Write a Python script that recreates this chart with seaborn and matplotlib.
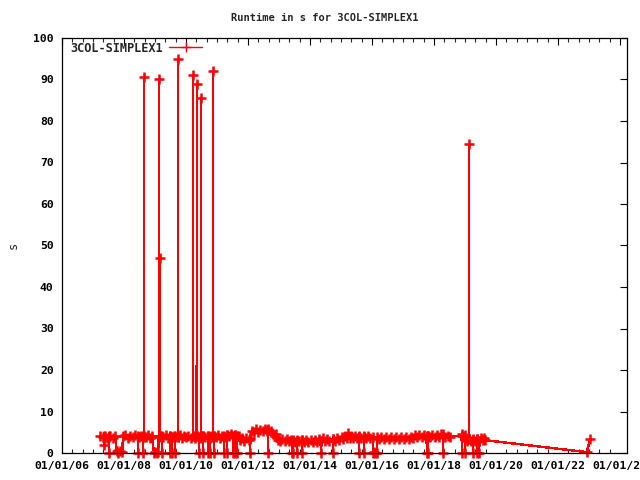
import pandas as pd
import matplotlib
matplotlib.use("Agg")
import matplotlib.pyplot as plt
import seaborn as sns
from matplotlib.ticker import MultipleLocator

# runtime samples (decimal year -> seconds), one pair of lists per year
t_2007 = [2007.23, 2007.32, 2007.345, 2007.35, 2007.355, 2007.39, 2007.45, 2007.515, 2007.52,
          2007.525, 2007.56, 2007.63, 2007.71, 2007.77, 2007.82, 2007.87, 2007.94, 2007.97]
s_2007 = [4.0, 3.9, 3.9, 2.0, 4.0, 4.2, 3.7, 3.9, 0.1,
          4.0, 4.2, 3.7, 4.1, 0.4, 0.1, 0.5, 0.2, 4.0]

t_2008 = [2008.04, 2008.12, 2008.20, 2008.28, 2008.37, 2008.445, 2008.45, 2008.455, 2008.50,
          2008.55, 2008.605, 2008.61, 2008.615, 2008.645, 2008.65, 2008.655, 2008.70, 2008.76,
          2008.83, 2008.90, 2008.97]
s_2008 = [4.3, 3.7, 4.2, 3.8, 4.3, 3.9, 0.0, 4.0, 3.8,
          4.2, 3.8, 0.0, 4.1, 3.8, 90.5, 4.2, 3.8, 4.3,
          3.7, 4.2, 0.0]

t_2009 = [2009.01, 2009.05, 2009.10, 2009.125, 2009.13, 2009.135, 2009.155, 2009.16, 2009.165,
          2009.225, 2009.23, 2009.235, 2009.27, 2009.34, 2009.41, 2009.475, 2009.48, 2009.485,
          2009.545, 2009.55, 2009.555, 2009.60, 2009.645, 2009.65, 2009.655, 2009.735, 2009.74,
          2009.745, 2009.80, 2009.87, 2009.94]
s_2009 = [0.3, 0.0, 0.2, 4.0, 90.0, 3.9, 4.1, 47.0, 4.2,
          3.8, 0.0, 4.0, 3.8, 4.3, 3.7, 4.1, 0.0, 4.1,
          3.8, 0.0, 3.9, 4.2, 3.8, 0.0, 4.2, 3.9, 95.0,
          3.8, 4.3, 3.7, 4.2]

t_2010 = [2010.01, 2010.08, 2010.15, 2010.225, 2010.23, 2010.235, 2010.29, 2010.345, 2010.35,
          2010.355, 2010.415, 2010.42, 2010.425, 2010.475, 2010.48, 2010.485, 2010.545, 2010.55,
          2010.555, 2010.63, 2010.705, 2010.71, 2010.715, 2010.765, 2010.77, 2010.775, 2010.82,
          2010.865, 2010.87, 2010.875, 2010.895, 2010.90, 2010.905, 2010.96]
s_2010 = [3.8, 4.2, 3.7, 4.0, 91.0, 4.0, 3.6, 4.1, 89.0,
          4.1, 3.8, 0.0, 3.8, 4.2, 85.5, 3.7, 4.0, 0.0,
          4.1, 3.8, 4.2, 0.0, 4.2, 3.8, 0.0, 3.7, 4.2,
          3.8, 92.0, 3.9, 4.1, 0.0, 4.1, 3.8]

t_2011 = [2011.03, 2011.10, 2011.17, 2011.225, 2011.23, 2011.235, 2011.315, 2011.32, 2011.325,
          2011.38, 2011.45, 2011.515, 2011.52, 2011.525, 2011.575, 2011.58, 2011.585, 2011.645,
          2011.65, 2011.655, 2011.70, 2011.74, 2011.81, 2011.88, 2011.95]
s_2011 = [4.3, 3.7, 4.2, 3.8, 0.0, 4.1, 4.3, 0.0, 4.4,
          4.0, 4.5, 4.1, 0.0, 4.2, 4.4, 0.0, 4.4, 4.0,
          0.0, 4.1, 4.2, 3.1, 3.6, 3.0, 3.5]

t_2012 = [2012.02, 2012.055, 2012.06, 2012.065, 2012.13, 2012.20, 2012.27, 2012.34, 2012.39,
          2012.47, 2012.55, 2012.60, 2012.645, 2012.65, 2012.655, 2012.74, 2012.81, 2012.86,
          2012.92, 2012.97]
s_2012 = [3.1, 3.5, 0.0, 3.4, 5.4, 5.0, 5.7, 5.1, 5.5,
          5.3, 5.9, 5.4, 5.6, 0.0, 5.8, 5.3, 4.6, 4.2,
          4.5, 3.2]

t_2013 = [2013.04, 2013.11, 2013.18, 2013.25, 2013.32, 2013.38, 2013.415, 2013.42, 2013.43,
          2013.445, 2013.45, 2013.455, 2013.52, 2013.575, 2013.58, 2013.585, 2013.66, 2013.735,
          2013.74, 2013.745, 2013.81, 2013.88, 2013.95]
s_2013 = [2.8, 3.3, 2.8, 3.3, 2.8, 3.2, 2.9, 0.0, 3.0,
          3.0, 0.0, 3.1, 2.7, 3.0, 0.0, 3.2, 2.8, 3.1,
          0.0, 3.2, 2.6, 3.1, 2.6]

t_2014 = [2014.02, 2014.09, 2014.16, 2014.23, 2014.30, 2014.345, 2014.35, 2014.355, 2014.42,
          2014.49, 2014.56, 2014.63, 2014.735, 2014.74, 2014.745, 2014.81, 2014.88, 2014.95]
s_2014 = [3.2, 2.7, 3.1, 2.6, 3.4, 3.0, 0.0, 3.0, 3.5,
          3.0, 3.4, 2.9, 3.3, 0.0, 3.4, 3.0, 3.7, 3.2]

t_2015 = [2015.02, 2015.08, 2015.13, 2015.18, 2015.23, 2015.28, 2015.34, 2015.40, 2015.46,
          2015.52, 2015.575, 2015.58, 2015.585, 2015.66, 2015.735, 2015.74, 2015.745, 2015.81,
          2015.88, 2015.95]
s_2015 = [3.8, 3.3, 4.1, 3.6, 4.7, 3.7, 4.2, 3.6, 4.1,
          3.5, 3.9, 0.0, 4.0, 3.5, 3.9, 0.0, 4.0, 3.5,
          4.0, 3.6]

t_2016 = [2016.025, 2016.03, 2016.07, 2016.11, 2016.16, 2016.165, 2016.22, 2016.30, 2016.38,
          2016.46, 2016.54, 2016.62, 2016.70, 2016.78, 2016.86, 2016.94]
s_2016 = [3.9, 0.0, 0.2, 0.0, 0.1, 3.9, 3.4, 3.9, 3.4,
          3.9, 3.4, 3.9, 3.4, 3.9, 3.4, 3.9]

t_2017 = [2017.02, 2017.10, 2017.18, 2017.26, 2017.34, 2017.39, 2017.46, 2017.53, 2017.60,
          2017.67, 2017.765, 2017.77, 2017.79, 2017.805, 2017.81, 2017.815, 2017.88, 2017.95]
s_2017 = [3.4, 3.9, 3.4, 3.9, 3.5, 4.3, 3.8, 4.3, 3.8,
          4.3, 3.9, 0.0, 4.0, 4.0, 0.0, 4.2, 3.8, 4.3]

t_2018 = [2018.02, 2018.09, 2018.16, 2018.23, 2018.285, 2018.29, 2018.295, 2018.36, 2018.44,
          2018.52, 2018.895, 2018.90, 2018.905, 2018.95]
s_2018 = [3.8, 4.3, 3.8, 4.6, 3.9, 0.0, 4.5, 3.8, 4.2,
          3.9, 4.2, 0.0, 4.6, 4.1]

t_2019 = [2018.995, 2019.00, 2019.005, 2019.07, 2019.125, 2019.13, 2019.135, 2019.20, 2019.255,
          2019.26, 2019.265, 2019.33, 2019.385, 2019.39, 2019.395, 2019.445, 2019.45, 2019.455,
          2019.51, 2019.58, 2019.61, 2019.65]
s_2019 = [4.4, 0.0, 3.4, 2.9, 3.3, 74.5, 3.3, 2.8, 3.4,
          0.0, 3.2, 2.8, 3.3, 0.0, 3.3, 3.0, 0.0, 3.0,
          3.6, 3.2, 3.7, 3.1]

t_late = [2022.94, 2023.03]
s_late = [0.2, 3.4]

major_years = [2006, 2008, 2010, 2012, 2014, 2016, 2018, 2020, 2022, 2024]
major_labels = ["01/01/06", "01/01/08", "01/01/10", "01/01/12", "01/01/14",
                "01/01/16", "01/01/18", "01/01/20", "01/01/22", "01/01/24"]
y_ticks = [0, 10, 20, 30, 40, 50, 60, 70, 80, 90, 100]

years = (t_2007 + t_2008 + t_2009 + t_2010 + t_2011 + t_2012 + t_2013 + t_2014
         + t_2015 + t_2016 + t_2017 + t_2018 + t_2019 + t_late)
secs = (s_2007 + s_2008 + s_2009 + s_2010 + s_2011 + s_2012 + s_2013 + s_2014
        + s_2015 + s_2016 + s_2017 + s_2018 + s_2019 + s_late)
df = pd.DataFrame({"year": years, "secs": secs})

sns.set_style("white")
plt.rcParams["font.family"] = ["DejaVu Sans Mono"]
plt.rcParams["font.weight"] = "bold"

fig = plt.figure(figsize=(6.4, 4.8), dpi=100)
ax = fig.add_axes([62 / 640, 1 - 453 / 480, 565 / 640, 415 / 480])

# thick marker strokes so the dense runs of samples merge into a solid band
sns.lineplot(data=df, x="year", y="secs", ax=ax, color="red", lw=1.0,
             marker="+", markersize=7, markeredgewidth=1.8,
             markeredgecolor="red", antialiased=False,
             estimator=None, sort=False, label="3COL-SIMPLEX1", clip_on=False)

ax.set_xlim(2006, 2024.23)
ax.set_ylim(0, 100)
ax.set_xticks(major_years, labels=major_labels)
ax.xaxis.set_minor_locator(MultipleLocator(1 / 3))
ax.set_yticks(y_ticks)

ax.tick_params(axis="both", which="major", direction="in", length=5, width=0.8,
               top=True, right=True, labelsize=8.2, colors="black", pad=6)
ax.tick_params(axis="x", which="minor", direction="in", length=3, width=0.8,
               top=True, bottom=True)
for s in ax.spines.values():
    s.set_color("black")
    s.set_linewidth(0.9)

ax.set_xlabel("")
ax.set_ylabel("s", fontsize=8.6, rotation=90)
ax.yaxis.set_label_coords(-0.075, 0.5)

fig.text(0.508, 1 - 18 / 480, "Runtime in s for 3COL-SIMPLEX1",
         ha="center", va="center", fontsize=7.5, fontweight="bold")

leg = ax.legend(loc="center left", bbox_to_anchor=(0.0, 1 - 10 / 415), frameon=False,
                markerfirst=False, handlelength=2.8, handletextpad=0.5,
                borderaxespad=0.3, prop={"size": 8.6, "weight": "bold"})
leg.get_lines()[0].set_markeredgewidth(1.0)

fig.savefig("out.png", dpi=100)
